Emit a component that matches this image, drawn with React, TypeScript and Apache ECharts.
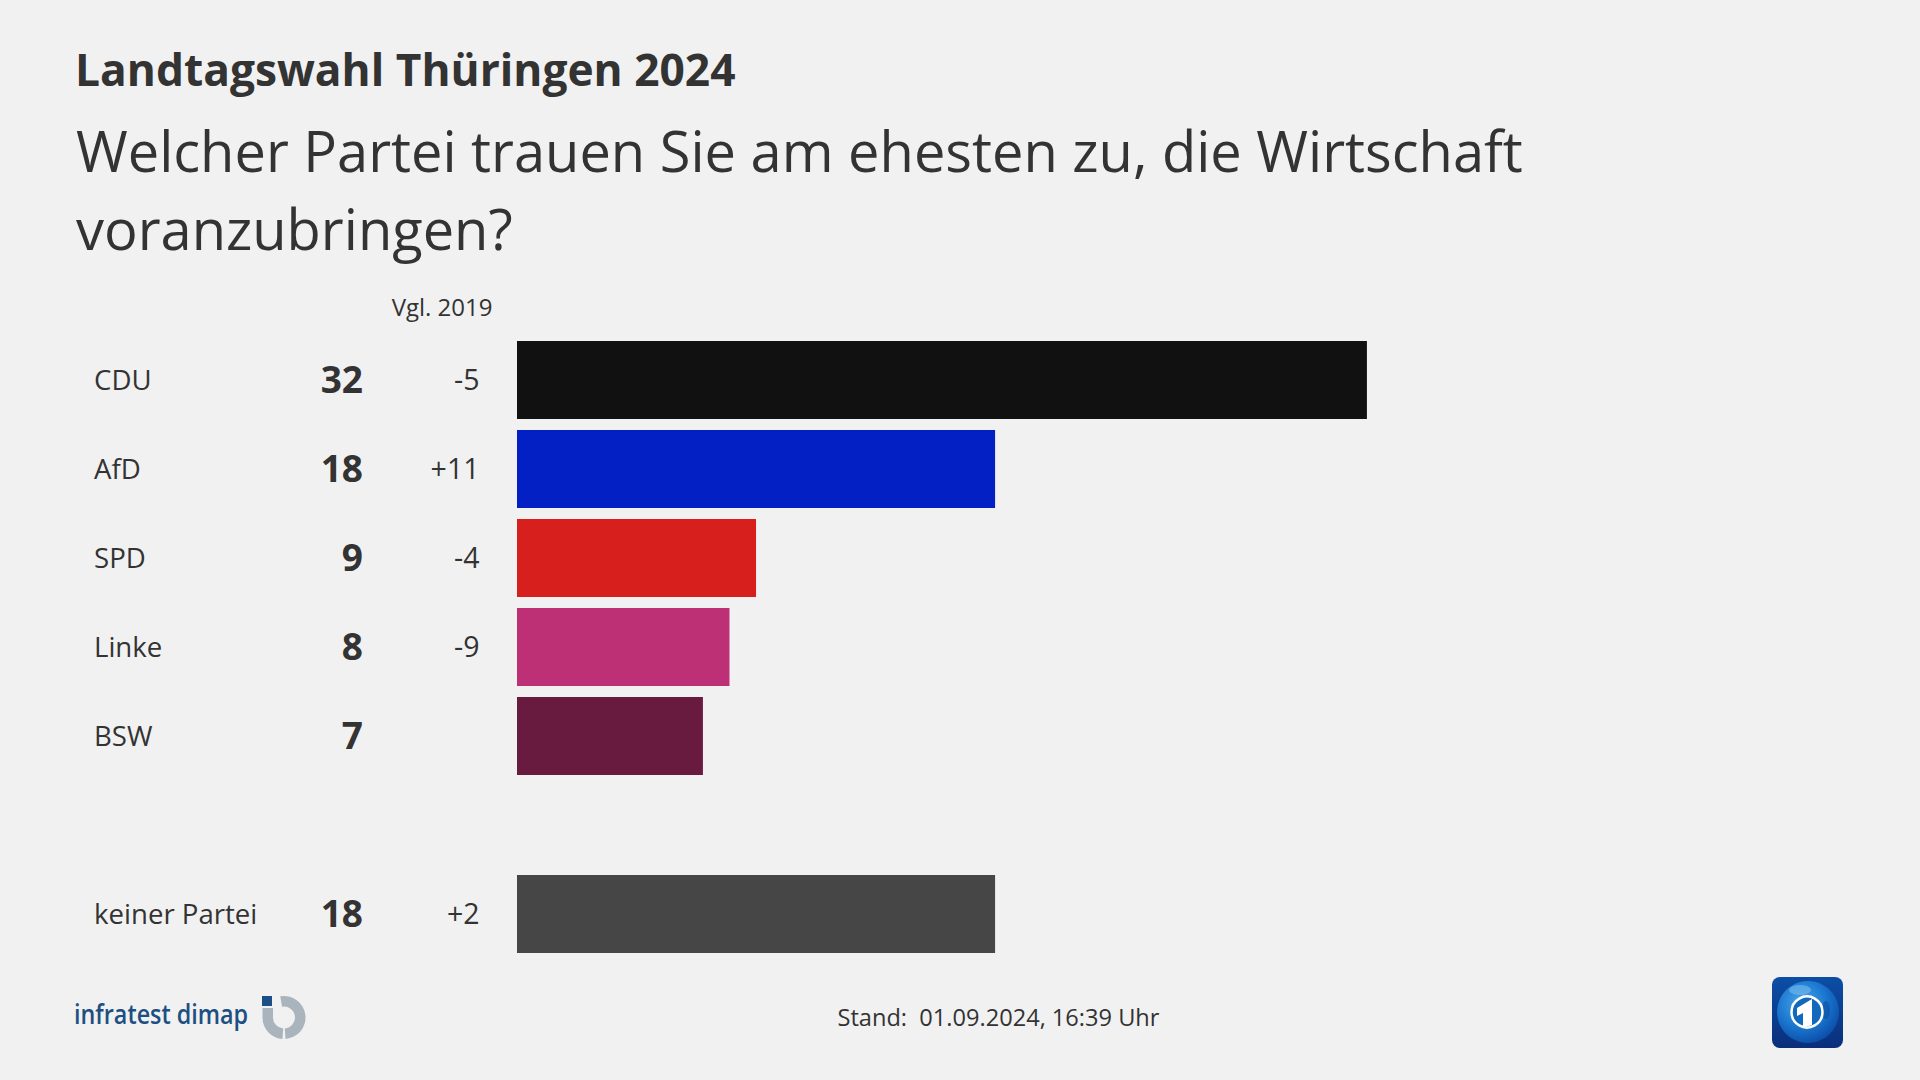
import React, { useEffect, useRef } from "react";
import * as echarts from "echarts";

const categories = ["CDU", "AfD", "SPD", "Linke", "BSW", "", "keiner Partei"];
const values: (number | null)[] = [32, 18, 9, 8, 7, null, 18];
const changes = ["-5", "+11", "-4", "-9", "", "", "+2"];
const colors = ["#111111", "#0320c4", "#d71f1d", "#bd3075", "#691a3f", "#000000", "#464646"];
const heading = "Landtagswahl Thüringen 2024";
const question = "Welcher Partei trauen Sie am ehesten zu, die Wirtschaft\nvoranzubringen?";
const compareLabel = "Vgl. 2019";
const standLabel = "Stand:  01.09.2024, 16:39 Uhr";
const logoLabel = "infratest dimap";

const FONT = "'Open Sans', 'Noto Sans', sans-serif";
const TEXT = "#333333";

export default function App() {
  const ref = useRef<HTMLDivElement>(null);
  useEffect(() => {
    const chart = echarts.init(ref.current!, undefined, { renderer: "svg" });
    const oneDef = (data: string[], gridIndex: number, axisLabel: any) => ({
      type: "category",
      inverse: true,
      position: "left",
      gridIndex,
      data,
      axisLine: { show: false },
      axisTick: { show: false },
      splitLine: { show: false },
      axisLabel,
    });
    chart.setOption({
      animation: false,
      backgroundColor: "#f1f1f1",
      textStyle: { fontFamily: FONT },
      title: [
        {
          text: heading,
          left: 70,
          top: 42,
          textStyle: { fontFamily: FONT, fontSize: 44.3, fontWeight: 700, color: TEXT },
        },
        {
          text: question,
          left: 71,
          top: 106,
          textStyle: { fontFamily: FONT, fontSize: 56, fontWeight: 400, color: TEXT, lineHeight: 78 },
        },
      ],
      grid: [
        { left: 517, top: 335.5, width: 1062.4, height: 623, containLabel: false },
        { left: 517, top: 334.2, width: 1062.4, height: 623, containLabel: false },
      ],
      xAxis: [
        { type: "value", min: 0, max: 40, show: false, gridIndex: 0 },
        { type: "value", min: 0, max: 40, show: false, gridIndex: 1 },
      ],
      yAxis: [
        oneDef(categories, 0, { show: false }),
        oneDef(categories, 1, { margin: 423, align: "left", fontSize: 27.6, color: TEXT, fontFamily: FONT, interval: 0 }),
        oneDef(values.map((v) => (v == null ? "" : String(v))), 1, { margin: 154, align: "right", fontSize: 37, fontWeight: 700, color: TEXT, fontFamily: FONT, interval: 0 }),
        oneDef(changes, 1, { margin: 37.5, align: "right", fontSize: 28.5, color: TEXT, fontFamily: FONT, interval: 0 }),
      ],
      series: [
        {
          type: "bar",
          xAxisIndex: 0,
          yAxisIndex: 0,
          barWidth: 78,
          silent: true,
          data: values.map((v, i) => ({ value: v, itemStyle: { color: colors[i] } })),
        },
      ],
      graphic: [
        { type: "text", x: 492.5, y: 306, style: { text: compareLabel, font: `24px ${FONT}`, fill: TEXT, textAlign: "right", textVerticalAlign: "middle" } },
        { type: "text", x: 837.5, y: 1017, style: { text: standLabel, font: `23.6px ${FONT}`, fill: TEXT, textAlign: "left", textVerticalAlign: "middle" } },
        { type: "text", x: 74, y: 1013, scaleX: 0.865, style: { text: logoLabel, font: `600 27px ${FONT}`, fill: "#1d4f82", textAlign: "left", textVerticalAlign: "middle" } },
        { type: "rect", shape: { x: 262, y: 996, width: 10, height: 10 }, style: { fill: "#1c4f86" } },
        { type: "sector", shape: { cx: 284, cy: 1017.5, r: 21.5, r0: 11, startAngle: (-100 * Math.PI) / 180, endAngle: (86 * Math.PI) / 180, clockwise: true }, style: { fill: "#aab4bd" } },
        { type: "sector", shape: { cx: 284, cy: 1017.5, r: 21.5, r0: 11, startAngle: (94 * Math.PI) / 180, endAngle: Math.PI, clockwise: true }, style: { fill: "#aab4bd" } },
        { type: "rect", shape: { x: 262.5, y: 1008, width: 10.5, height: 10 }, style: { fill: "#aab4bd" } },
        {
          type: "rect",
          shape: { x: 1772, y: 977, width: 71, height: 71, r: 8 },
          style: { fill: new echarts.graphic.LinearGradient(0, 0, 0, 1, [{ offset: 0, color: "#0c4ea6" }, { offset: 1, color: "#0a2f7a" }]) },
        },
        {
          type: "circle",
          shape: { cx: 1808, cy: 1012, r: 31 },
          style: { fill: new echarts.graphic.RadialGradient(0.4, 0.35, 0.7, [{ offset: 0, color: "#4aa6ea" }, { offset: 0.55, color: "#1b78d0" }, { offset: 1, color: "#0a4aa6" }]) },
        },
        { type: "ellipse", shape: { cx: 1800, cy: 990, rx: 11, ry: 5 }, style: { fill: "#7cc0ee", opacity: 0.55 } },
        { type: "ellipse", shape: { cx: 1826, cy: 1010, rx: 4, ry: 9 }, style: { fill: "#0b4c9c", opacity: 0.6 } },
        { type: "circle", shape: { cx: 1807, cy: 1012, r: 15.5 }, style: { fill: "#1268bd", stroke: "#ffffff", lineWidth: 2.5 } },
        { type: "polygon", shape: { points: [[1797, 1008], [1812, 999], [1812, 1025], [1803, 1028], [1803, 1013], [1797, 1016]] }, style: { fill: "#ffffff" } },
      ],
    });
    return () => chart.dispose();
  }, []);
  return <div ref={ref} style={{ position: "fixed", left: 0, top: 0, width: 1920, height: 1080 }} />;
}
